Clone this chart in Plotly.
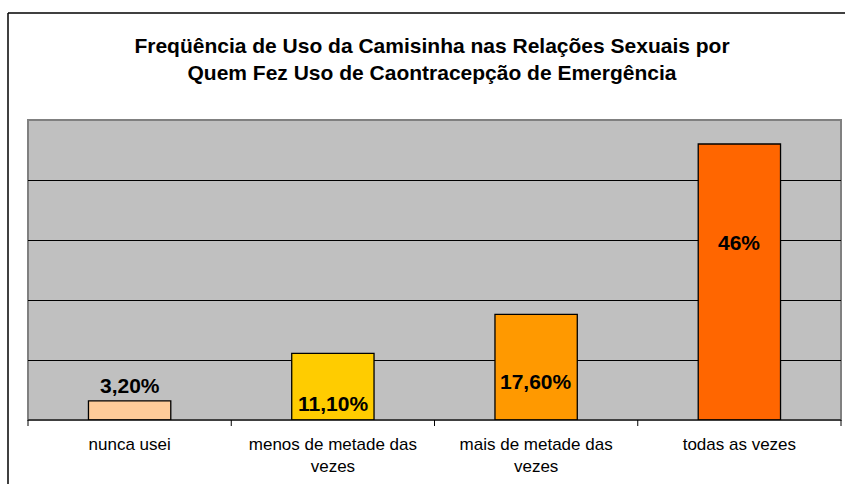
import plotly.graph_objects as go

categories = ["nunca usei", "menos de metade das<br>vezes", "mais de metade das<br>vezes", "todas as vezes"]
values = [3.2, 11.1, 17.6, 46]
labels = ["3,20%", "11,10%", "17,60%", "46%"]
colors = ["#FFCC99", "#FFCC00", "#FF9900", "#FF6600"]
label_y = [5.8, 2.7, 6.5, 29.6]

W, H = 845, 484
L, R, T, B = 28, 4, 120, 64
pw, ph = W - L - R, H - T - B
FONT = "Liberation Sans, Arial"

fig = go.Figure()
fig.add_trace(go.Bar(
    x=categories, y=values,
    marker=dict(color=colors, line=dict(color="black", width=1.3)),
    width=0.405, hoverinfo="skip",
))
for c, ly, t in zip(categories, label_y, labels):
    fig.add_annotation(x=c, y=ly, text=f"<b>{t}</b>", showarrow=False,
                       font=dict(family=FONT, size=21, color="black"))

def px2paper_x(px):
    return (px - L) / pw

def px2paper_y(py):
    return (H - B - py) / ph

# outer chart frame (top and left edges visible)
fig.add_shape(type="line", xref="paper", yref="paper",
              x0=px2paper_x(8), x1=px2paper_x(845), y0=px2paper_y(13), y1=px2paper_y(13),
              line=dict(color="black", width=1.5))
fig.add_shape(type="line", xref="paper", yref="paper",
              x0=px2paper_x(8), x1=px2paper_x(8), y0=px2paper_y(13), y1=px2paper_y(484),
              line=dict(color="black", width=1.5))
fig.add_shape(type="rect", xref="paper", yref="paper", x0=0, x1=1, y0=0, y1=1,
              line=dict(color="#808080", width=2), fillcolor="rgba(0,0,0,0)", layer="below")
for i in range(5):
    xp = i / 4
    fig.add_shape(type="line", xref="paper", yref="paper", x0=xp, x1=xp,
                  y0=0, y1=-6 / ph, line=dict(color="black", width=1))
fig.add_shape(type="line", xref="paper", yref="paper", x0=0, x1=1, y0=0, y1=0,
              line=dict(color="black", width=1.2))

fig.update_layout(
    width=W, height=H,
    margin=dict(l=L, r=R, t=T, b=B),
    paper_bgcolor="white", plot_bgcolor="#C0C0C0",
    showlegend=False,
    title=dict(text="<b>Freqüência de Uso da Camisinha nas Relações Sexuais por<br>Quem Fez Uso de Caontracepção de Emergência</b>",
               x=432 / W, xanchor="center", y=1 - 53 / H, yanchor="middle",
               font=dict(family=FONT, size=21, color="black")),
    xaxis=dict(showgrid=False, ticks="", tickfont=dict(family=FONT, size=17, color="black"),
               ticklabelstandoff=12, showline=False, fixedrange=True),
    yaxis=dict(range=[0, 50], dtick=10, showgrid=True, gridcolor="black", gridwidth=1,
               showticklabels=False, ticks="", zeroline=False, showline=False, fixedrange=True),
    font=dict(family=FONT),
)

fig.write_html("out.html", config={"displayModeBar": False},
               post_script="document.body.style.margin='0';document.body.style.overflow='hidden';")
